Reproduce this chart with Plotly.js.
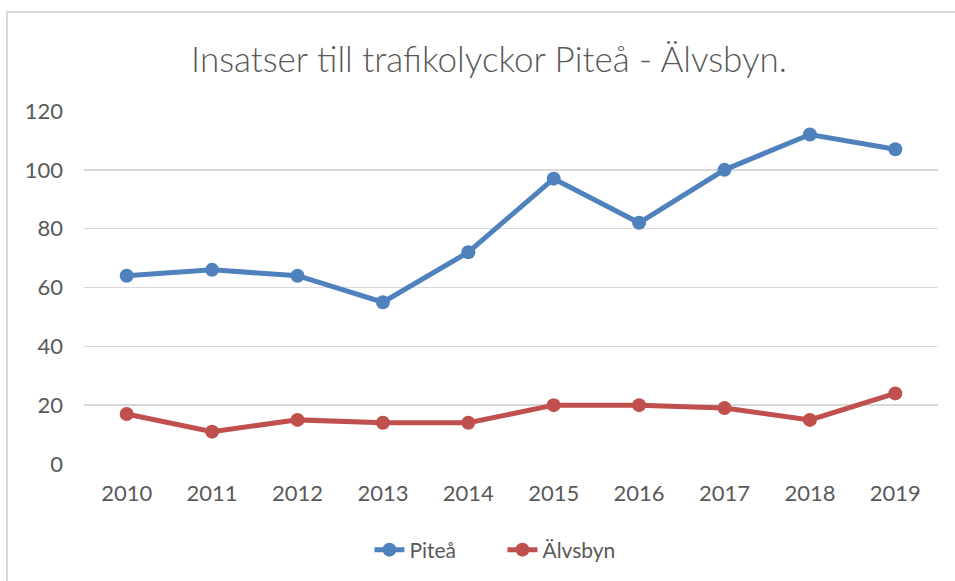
<!DOCTYPE html>
<html>
<head>
<meta charset="utf-8">
<script src="https://cdn.plot.ly/plotly-3.0.1.min.js"></script>
<style>
  html, body { margin:0; padding:0; background:#fff; }
  #wrap { position:relative; width:955px; height:581px; }
  #chart { width:955px; height:581px; }
  #frame { position:absolute; left:6px; top:11px; right:0; bottom:0; border-left:2px solid #d9d9d9; border-top:2px solid #d9d9d9; pointer-events:none; }
</style>
</head>
<body>
<div id="wrap">
  <div id="chart"></div>
  <div id="frame"></div>
</div>
<script>
const years = ['2010','2011','2012','2013','2014','2015','2016','2017','2018','2019'];
const pitea = [64, 66, 64, 55, 72, 97, 82, 100, 112, 107];
const alvsbyn = [17, 11, 15, 14, 14, 20, 20, 19, 15, 24];
const seriesNames = ['Piteå', 'Älvsbyn'];
const titleText = 'Insatser till trafikolyckor Piteå - Älvsbyn.';

const font = 'Lato, "Open Sans", sans-serif';
const traces = [
  { x: years, y: pitea, name: seriesNames[0], type: 'scatter', mode: 'lines+markers',
    line: { color: '#4F81BD', width: 5 }, marker: { color: '#4F81BD', size: 14 } },
  { x: years, y: alvsbyn, name: seriesNames[1], type: 'scatter', mode: 'lines+markers',
    line: { color: '#C0504D', width: 5 }, marker: { color: '#C0504D', size: 14 } }
];
const layout = {
  width: 955, height: 581,
  margin: { l: 84, r: 17, t: 111, b: 116 },
  paper_bgcolor: '#fff', plot_bgcolor: '#fff',
  font: { family: font, color: '#595959', size: 20 },
  title: { text: titleText, x: 489/955, xanchor: 'center', y: 1 - 60/581, yanchor: 'middle',
           font: { family: font, size: 35, color: '#595959', weight: 300 } },
  xaxis: { type: 'category', range: [-0.5, 9.5], showgrid: false, zeroline: false, showline: false, ticks: '',
           tickfont: { size: 22, color: '#595959' }, ticklabelstandoff: 14 },
  yaxis: { range: [0, 120], dtick: 20, showgrid: true, gridcolor: '#d9d9d9', gridwidth: 1.5,
           zeroline: false, showline: false, ticks: '', tickfont: { size: 22, color: '#595959' },
           ticklabelstandoff: 20 },
  showlegend: true,
  legend: { orientation: 'h', x: 0.49, xanchor: 'center', y: -(550-465)/354, yanchor: 'middle',
            font: { size: 21, color: '#595959' }, entrywidth: 88, entrywidthmode: 'pixels' }
};
Plotly.newPlot('chart', traces, layout, { displayModeBar: false, staticPlot: true });
</script>
</body>
</html>
